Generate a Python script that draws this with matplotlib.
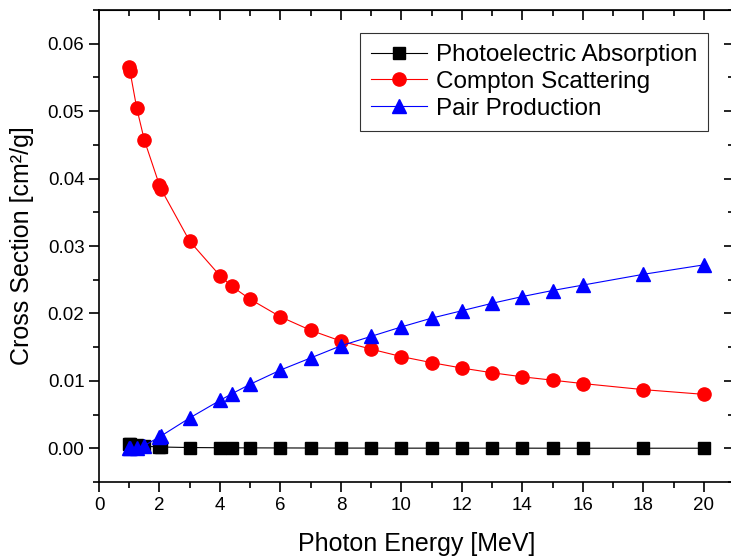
import matplotlib
matplotlib.use("Agg")
import matplotlib.pyplot as plt
from matplotlib.ticker import MultipleLocator

plt.rcParams["font.family"] = ["Liberation Sans", "DejaVu Sans"]

energy = [1.0, 1.022, 1.25, 1.5, 2.0, 2.044, 3.0, 4.0, 4.4, 5.0, 6.0, 7.0, 8.0,
          9.0, 10.0, 11.0, 12.0, 13.0, 14.0, 15.0, 16.0, 18.0, 20.0]
photoelectric = [0.00065, 0.0006, 0.00042, 0.0003, 0.0002, 0.00019, 0.00011,
                 0.00008, 0.00007, 0.00006, 0.00005, 0.00004, 0.00003, 0.00003,
                 0.00002, 0.00002, 0.00002, 0.00002, 0.00002, 0.00001, 0.00001,
                 0.00001, 0.00001]
compton = [0.0566, 0.0560, 0.0504, 0.0457, 0.0390, 0.0385, 0.0307, 0.0256,
           0.0240, 0.0221, 0.0195, 0.0175, 0.0159, 0.0147, 0.0136, 0.0127,
           0.0119, 0.0112, 0.0106, 0.0101, 0.0096, 0.0087, 0.0080]
pair = [0.0, 0.00002, 0.0001, 0.0004, 0.0017, 0.0018, 0.0045, 0.0071, 0.0081,
        0.0095, 0.0116, 0.0134, 0.0152, 0.0166, 0.0180, 0.0193, 0.0204, 0.0215,
        0.0225, 0.0234, 0.0242, 0.0258, 0.0272]

fig = plt.figure(figsize=(7.31, 5.59), dpi=100)
ax = fig.add_axes([99 / 731, 77 / 559, 635 / 731, 472 / 559])

ax.plot(energy, photoelectric, color="black", marker="s", markersize=8,
        linewidth=0.8, label="Photoelectric Absorption", zorder=3)
ax.plot(energy, compton, color="red", marker="o", markersize=9.5,
        linewidth=0.8, label="Compton Scattering", zorder=3)
ax.plot(energy, pair, color="blue", marker="^", markersize=9.5,
        linewidth=0.8, label="Pair Production", zorder=3)

ax.set_xlim(0, 21)
ax.set_ylim(-0.005, 0.065)
ax.xaxis.set_major_locator(MultipleLocator(2))
ax.xaxis.set_minor_locator(MultipleLocator(1))
ax.yaxis.set_major_locator(MultipleLocator(0.01))
ax.yaxis.set_minor_locator(MultipleLocator(0.005))
ax.yaxis.set_major_formatter(plt.FormatStrFormatter("%.2f"))

ax.tick_params(which="both", direction="out", labelsize=13.5, width=1.2)
ax.tick_params(which="major", length=7)
ax.tick_params(which="minor", length=4)
for spine in ax.spines.values():
    spine.set_linewidth(1.2)

# top/right ticks point inward, drawn via secondary axes
sx = ax.secondary_xaxis("top")
sx.xaxis.set_major_locator(MultipleLocator(2))
sx.xaxis.set_minor_locator(MultipleLocator(1))
sx.tick_params(which="both", direction="in", labeltop=False, width=1.2)
sx.tick_params(which="major", length=7)
sx.tick_params(which="minor", length=4)
sy = ax.secondary_yaxis("right")
sy.yaxis.set_major_locator(MultipleLocator(0.01))
sy.yaxis.set_minor_locator(MultipleLocator(0.005))
sy.tick_params(which="both", direction="in", labelright=False, width=1.2)
sy.tick_params(which="major", length=7)
sy.tick_params(which="minor", length=4)

ax.set_xlabel("Photon Energy [MeV]", fontsize=18, labelpad=13)
ax.set_ylabel("Cross Section [cm²/g]", fontsize=18, labelpad=10)

leg = ax.legend(loc="upper right", bbox_to_anchor=(0.959, 0.951), fontsize=17.5,
                frameon=True, fancybox=False, edgecolor="black",
                handlelength=2.3, handletextpad=0.35, borderpad=0.45,
                labelspacing=0.2, borderaxespad=0)
leg.get_frame().set_linewidth(0.8)

fig.savefig("out.png", dpi=100)
